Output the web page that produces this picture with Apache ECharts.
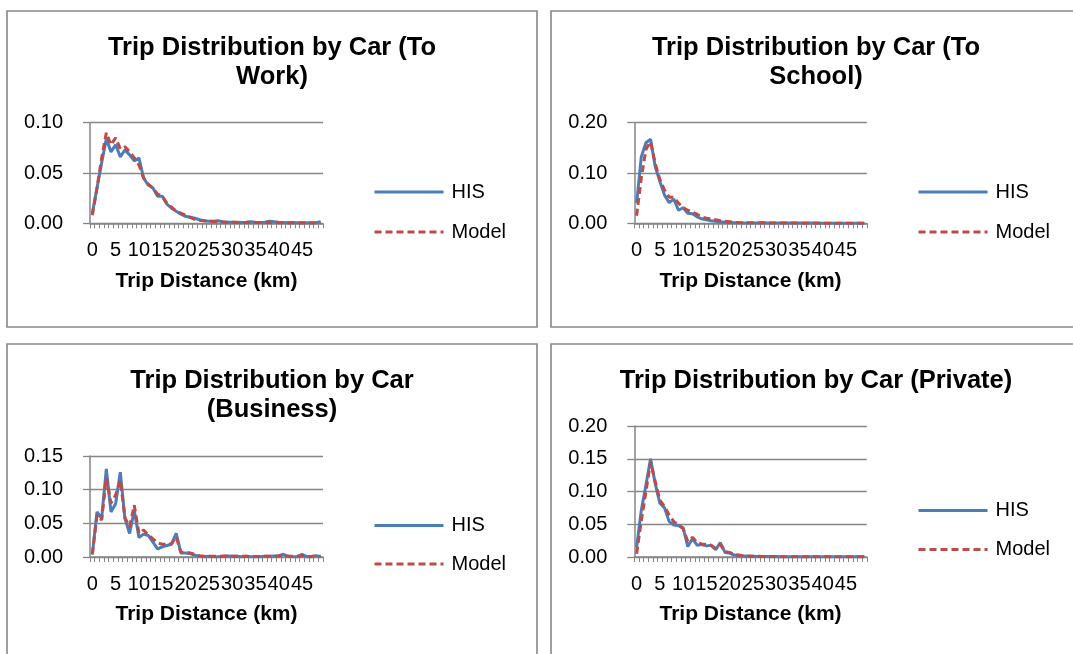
<!DOCTYPE html>
<html>
<head>
<meta charset="utf-8">
<script src="https://cdn.jsdelivr.net/npm/echarts@6/dist/echarts.min.js"></script>
<style>
html,body{margin:0;padding:0;background:#fff;}
#c{width:1073px;height:654px;}
</style>
</head>
<body>
<div id="c"></div>
<script>
// ---- data ----
const distances = Array.from({length: 50}, (_, i) => String(i)); // 0..49 km categories
const seriesNames = ['HIS', 'Model'];
const titles = ['Trip Distribution by Car (To\nWork)', 'Trip Distribution by Car (To\nSchool)', 'Trip Distribution by Car\n(Business)', 'Trip Distribution by Car (Private)'];
const xAxisName = 'Trip Distance (km)';

const workHIS = [0.010,0.035,0.060,0.084,0.071,0.078,0.066,0.073,0.068,0.062,0.065,0.045,0.038,0.035,0.027,0.027,0.019,0.015,0.012,0.009,0.007,0.006,0.005,0.0035,0.0025,0.002,0.002,0.0025,0.0015,0.001,0.001,0.001,0.0008,0.001,0.0015,0.001,0.0008,0.001,0.002,0.0015,0.001,0.0008,0.0005,0.0008,0.0005,0.0008,0.0005,0.0005,0.0005,0.0015];
const workModel = [0.008,0.035,0.065,0.090,0.078,0.085,0.074,0.076,0.071,0.065,0.058,0.045,0.039,0.035,0.029,0.027,0.020,0.016,0.012,0.010,0.008,0.006,0.004,0.003,0.0025,0.002,0.0018,0.0015,0.0012,0.001,0.001,0.0008,0.0008,0.0008,0.001,0.0008,0.0007,0.0008,0.001,0.0008,0.0006,0.0005,0.0005,0.0005,0.0004,0.0004,0.0004,0.0004,0.0004,0.0005];

const schoolHIS = [0.040,0.132,0.160,0.167,0.113,0.083,0.056,0.041,0.048,0.026,0.031,0.020,0.019,0.013,0.009,0.007,0.005,0.004,0.003,0.002,0.0015,0.001,0.001,0.0008,0.0008,0.0008,0.0008,0.0015,0.0008,0.0006,0.0006,0.0005,0.0005,0.0005,0.0005,0.0004,0.0004,0.0004,0.0004,0.0004,0.0003,0.0003,0.0003,0.0003,0.0003,0.0003,0.0003,0.0003,0.0003,0.0003];
const schoolModel = [0.015,0.090,0.147,0.162,0.119,0.087,0.066,0.052,0.052,0.040,0.031,0.026,0.022,0.018,0.013,0.010,0.009,0.007,0.005,0.004,0.003,0.002,0.0015,0.0012,0.001,0.001,0.0008,0.0008,0.0007,0.0006,0.0005,0.0005,0.0004,0.0004,0.0004,0.0003,0.0003,0.0003,0.0003,0.0003,0.0002,0.0002,0.0002,0.0002,0.0002,0.0002,0.0002,0.0002,0.0002,0.0002];

const businessHIS = [0.004,0.067,0.057,0.131,0.067,0.079,0.126,0.057,0.035,0.069,0.029,0.034,0.032,0.022,0.012,0.015,0.017,0.019,0.035,0.006,0.006,0.005,0.0025,0.001,0.0005,0.001,0.0005,0.0005,0.001,0.0015,0.001,0.001,0.0005,0.001,0.0005,0.0005,0.0005,0.001,0.001,0.0015,0.002,0.004,0.001,0.0005,0.0005,0.004,0.0005,0.0005,0.002,0.0003];
const businessModel = [0.004,0.062,0.055,0.118,0.080,0.092,0.114,0.058,0.045,0.077,0.035,0.040,0.033,0.027,0.021,0.019,0.019,0.020,0.030,0.007,0.007,0.006,0.004,0.002,0.001,0.001,0.001,0.001,0.001,0.0015,0.001,0.001,0.001,0.001,0.0008,0.0008,0.0008,0.001,0.001,0.001,0.0015,0.002,0.001,0.001,0.001,0.002,0.0008,0.0008,0.002,0.0008];

const privateHIS = [0.015,0.071,0.110,0.150,0.112,0.082,0.075,0.054,0.049,0.048,0.045,0.016,0.028,0.018,0.019,0.017,0.018,0.011,0.022,0.007,0.006,0.003,0.002,0.0015,0.001,0.001,0.0008,0.0008,0.0008,0.0005,0.0008,0.0005,0.0005,0.0005,0.0005,0.0004,0.0004,0.0004,0.0004,0.0004,0.0005,0.0004,0.0003,0.0003,0.0003,0.0003,0.0003,0.0003,0.0003,0.0003];
const privateModel = [0.005,0.055,0.100,0.145,0.115,0.087,0.077,0.064,0.054,0.049,0.043,0.024,0.030,0.022,0.020,0.019,0.018,0.013,0.019,0.008,0.007,0.004,0.003,0.002,0.0015,0.001,0.001,0.0008,0.0008,0.0006,0.0006,0.0005,0.0005,0.0005,0.0004,0.0004,0.0004,0.0004,0.0004,0.0004,0.0003,0.0003,0.0003,0.0003,0.0003,0.0003,0.0003,0.0003,0.0003,0.0003];

const yMaxes = [0.10, 0.20, 0.15, 0.20];
const yIntervals = [0.05, 0.10, 0.05, 0.05];
const panelData = [[workHIS, workModel],[schoolHIS, schoolModel],[businessHIS, businessModel],[privateHIS, privateModel]];

// ---- layout ----
const FONT = '"Liberation Sans", Arial, sans-serif';
const AXIS_COLOR = '#868686';
const panels = [
  {box:[7,11,530,316],   grid:[90,122.7,233,100.6],   titleX:272, titleTop:33, legendLeft:373, legendTop:182, legendGap:20},
  {box:[551,11,530,316], grid:[634.3,122.7,232.5,100.6], titleX:816, titleTop:33, legendLeft:917, legendTop:182, legendGap:20},
  {box:[7,344,530,340],  grid:[90,456,233,101],  titleX:272, titleTop:366, legendLeft:373, legendTop:515.5, legendGap:18.5},
  {box:[551,344,530,340],grid:[634.3,426,232.5,131], titleX:816, titleTop:366, legendLeft:917, legendTop:500.5, legendGap:19}
];

const option = {
  backgroundColor:'#fff',
  animation:false,
  textStyle:{fontFamily:FONT},
  title:[], grid:[], xAxis:[], yAxis:[], legend:[], series:[], graphic:[]
};

panels.forEach((p, k) => {
  option.graphic.push({type:'rect', shape:{x:p.box[0], y:p.box[1], width:p.box[2], height:p.box[3]},
    style:{fill:'none', stroke:'#888888', lineWidth:1.6}, silent:true, z:-1});
  option.title.push({text:titles[k], left:p.titleX, top:p.titleTop, textAlign:'center', padding:0,
    textStyle:{fontFamily:FONT, fontSize:25.5, fontWeight:'bold', color:'#000', lineHeight:29}});
  option.grid.push({left:p.grid[0], top:p.grid[1], width:p.grid[2], height:p.grid[3], containLabel:false});
  option.xAxis.push({gridIndex:k, type:'category', data:distances, boundaryGap:true,
    axisLine:{show:true, lineStyle:{color:AXIS_COLOR, width:1.5}},
    axisTick:{show:true, interval:0, length:5, lineStyle:{color:AXIS_COLOR, width:1}},
    axisLabel:{interval:4, fontSize:20, color:'#000', margin:17, fontFamily:FONT, hideOverlap:false},
    splitLine:{show:false},
    name:xAxisName, nameLocation:'middle', nameGap:47,
    nameTextStyle:{fontSize:21, fontWeight:'bold', color:'#000', fontFamily:FONT}});
  option.yAxis.push({gridIndex:k, type:'value', min:0, max:yMaxes[k], interval:yIntervals[k],
    axisLine:{show:true, onZero:false, lineStyle:{color:AXIS_COLOR, width:1.5}},
    axisTick:{show:true, length:7, lineStyle:{color:AXIS_COLOR, width:1.3}},
    axisLabel:{formatter:v => v.toFixed(2), fontSize:20, color:'#000', margin:27, fontFamily:FONT},
    splitLine:{show:true, lineStyle:{color:AXIS_COLOR, width:1.3}}});
  option.legend.push({data:seriesNames, orient:'vertical', left:p.legendLeft, top:p.legendTop, padding:0,
    itemWidth:69, itemHeight:20, itemGap:p.legendGap, selectedMode:false,
    itemStyle:{color:'rgba(0,0,0,0)', borderColor:'rgba(0,0,0,0)', borderWidth:0, opacity:0},
    lineStyle:{width:3},
    textStyle:{fontSize:20, color:'#000', fontFamily:FONT, lineHeight:20, padding:[0,0,0,3]}});
  const [his, model] = panelData[k];
  option.series.push({type:'line', name:'HIS', xAxisIndex:k, yAxisIndex:k, data:his, symbol:'none',
    lineStyle:{color:'#4A7EBB', width:3}, itemStyle:{color:'#4A7EBB'}, z:2});
  option.series.push({type:'line', name:'Model', xAxisIndex:k, yAxisIndex:k, data:model, symbol:'none',
    lineStyle:{color:'#BE4B48', width:3, type:[7,4]}, itemStyle:{color:'#BE4B48'}, z:3});
});

const chart = echarts.init(document.getElementById('c'), null, {renderer:'canvas'});
chart.setOption(option);
</script>
</body>
</html>
